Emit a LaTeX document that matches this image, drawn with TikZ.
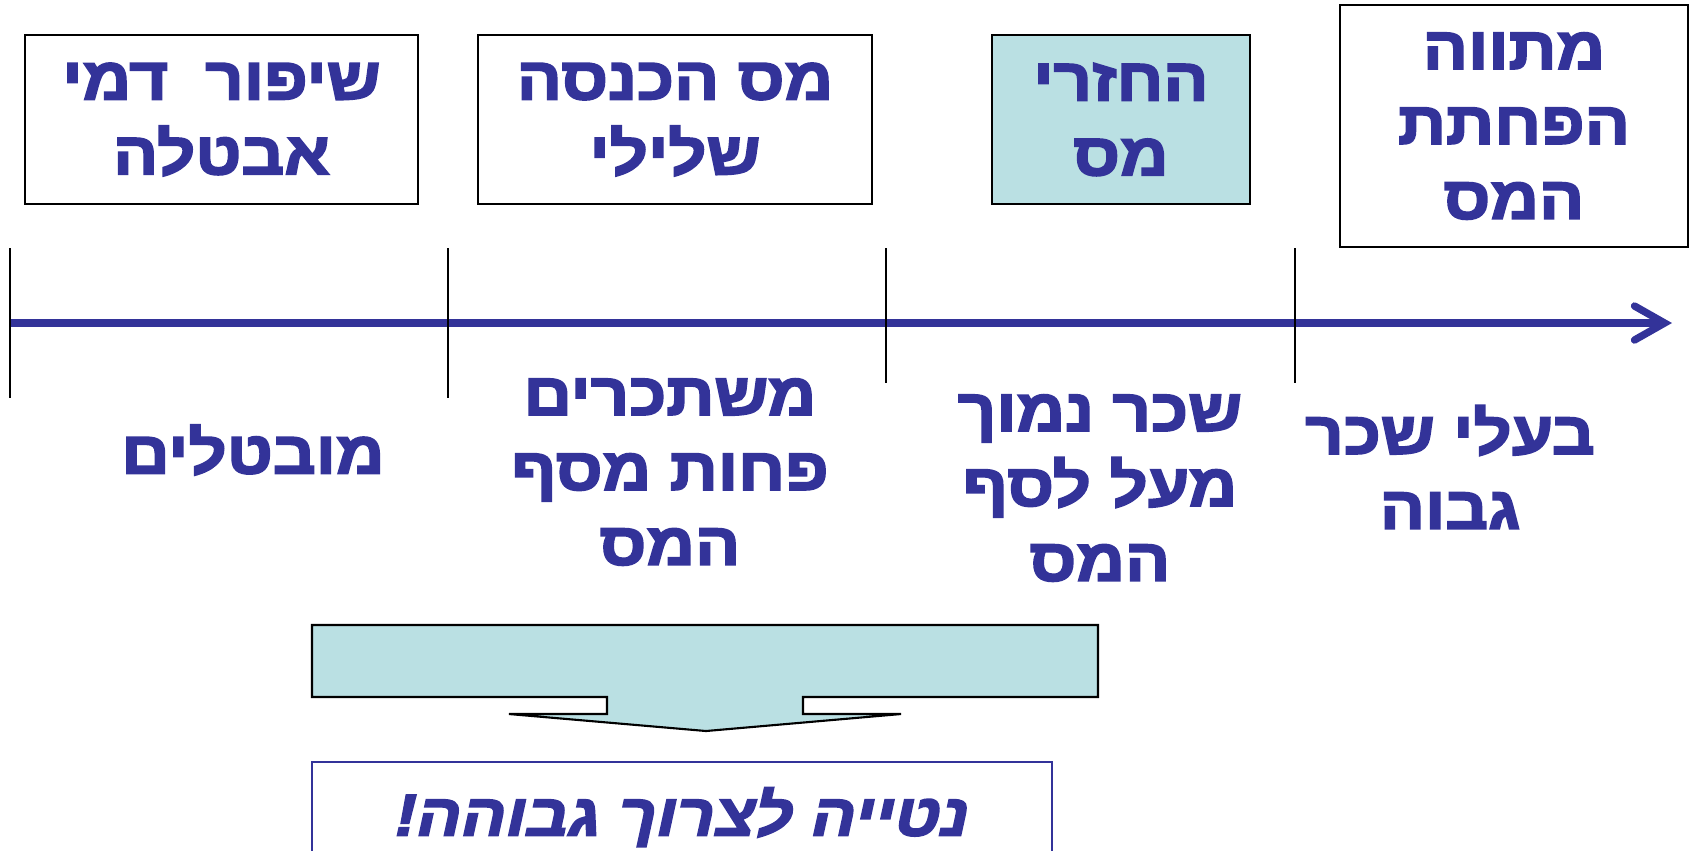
\documentclass[tikz,border=0pt]{standalone}
\usepackage{fontspec}
\usetikzlibrary{arrows.meta}
\newfontfamily\hebfont[Script=Hebrew,FakeStretch=1.12,BoldFeatures={FakeBold=3},BoldItalicFeatures={FakeBold=3}]{Liberation Sans}
\TeXXeTstate=1
\definecolor{ink}{HTML}{333399}
\definecolor{aqua}{HTML}{BAE0E3}
\newcommand{\heb}[1]{\beginR#1\endR}
\tikzset{
  lbl/.style={text=ink,font=\hebfont\bfseries\fontsize{17}{21.3}\selectfont,align=center,inner sep=0pt},
  topbox/.style={lbl,draw=black,line width=0.6pt,minimum height=1.69cm},
  tick/.style={line width=0.6pt},
  axis/.style={draw=ink,line width=2.1pt}
}
\begin{document}
\begin{tikzpicture}[x=0.01cm,y=-0.01cm]
		\clip (0,0) rectangle (1694,850);
		
		% boxes above the axis
		\node[topbox,minimum width=3.93cm] (dole) at (221.5,119.5) {\heb{שיפור~ דמי}\\\heb{אבטלה}};
		\node[topbox,minimum width=3.94cm] (negtax) at (675,119.5) {\heb{מס הכנסה}\\\heb{שלילי}};
		\node[topbox,minimum width=2.58cm,fill=aqua] (refund) at (1121,119.5) {\heb{החזרי}\\\heb{מס}};
		\node[topbox,minimum width=3.48cm,minimum height=2.42cm] (reform) at (1514,126) {\heb{מתווה}\\\heb{הפחתת}\\\heb{המס}};
		
		% axis and ticks
		\coordinate (start) at (10,323);
		\coordinate (end) at (1672,323);
		\draw[axis,-{Straight Barb[length=3mm,width=3.4mm,line cap=round]}] (start) -- (end);
		\foreach \x/\y in {10/398,448/398,886/383,1295/383}{
			\draw[tick] (\x,248) -- (\x,\y);
		}
		
		% groups below the axis
		\node[lbl] (jobless) at (253,450) {\heb{מובטלים}};
		\node[lbl] (low) at (670,472) {\heb{משתכרים}\\\heb{פחות מסף}\\\heb{המס}};
		\node[lbl] (mid) at (1100,488) {\heb{שכר נמוך}\\\heb{מעל לסף}\\\heb{המס}};
		\node[lbl] (high) at (1450,467) {\heb{בעלי שכר}\\\heb{גבוה}};
		
		% block arrow
		\draw[fill=aqua,line width=0.6pt] (312,625) -- (1098,625) -- (1098,697) -- (803,697) -- (803,714) -- (901,714)
			-- (706,731) -- (509,714) -- (607,714) -- (607,697) -- (312,697) -- cycle;
		
		\node[lbl,draw=ink,line width=0.6pt,anchor=north,minimum width=7.4cm,minimum height=1.1cm,
			font=\hebfont\bfseries\itshape\fontsize{16.8}{19}\selectfont] (result) at (682,761) {\heb{נטייה לצרוך גבוהה!}};
\end{tikzpicture}
\end{document}
